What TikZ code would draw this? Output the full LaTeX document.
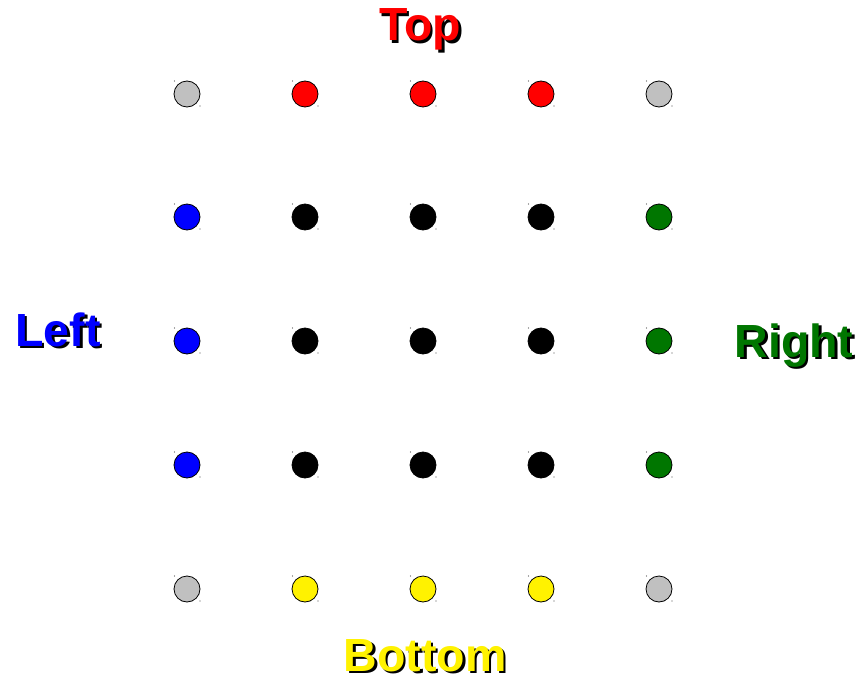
\documentclass[tikz,border=0pt]{standalone}
\usepackage{fontspec}
\newfontfamily\labelfont{Liberation Sans}
\usepackage{tikz}
\usetikzlibrary{positioning}

\definecolor{silver}{RGB}{192,192,192}
\definecolor{rightgreen}{RGB}{0,118,0}
\newcommand\shadowtext[1]{\rlap{\kern2.5pt\raisebox{-2.5pt}{\color{black}#1}}#1}

\begin{document}
\begin{tikzpicture}[x=1pt, y=-1pt,
    dot/.style={circle, draw=black, line width=0.8pt, minimum size=26pt, inner sep=0pt},
    side/.style={font=\labelfont\fontsize{46.5}{46.5}\selectfont\bfseries, inner sep=0pt, anchor=base},
]
\useasboundingbox (0,0) rectangle (862,677);

% the grid of dots, one row at a time
\foreach \c [count=\i] in {silver,red,red,red,silver}
  \node[dot, fill=\c] (d-1-\i) at ({187+118*(\i-1)}, 94) {};
\foreach \c [count=\i] in {blue,black,black,black,rightgreen}
  \node[dot, fill=\c] (d-2-\i) at ({187+118*(\i-1)}, 217) {};
\foreach \c [count=\i] in {blue,black,black,black,rightgreen}
  \node[dot, fill=\c] (d-3-\i) at ({187+118*(\i-1)}, 341) {};
\foreach \c [count=\i] in {blue,black,black,black,rightgreen}
  \node[dot, fill=\c] (d-4-\i) at ({187+118*(\i-1)}, 465) {};
\foreach \c [count=\i] in {silver,yellow,yellow,yellow,silver}
  \node[dot, fill=\c] (d-5-\i) at ({187+118*(\i-1)}, 589) {};

% little corner marks
\foreach \j in {1,...,5}
  \foreach \i in {1,...,5} {
    \fill[black!70] ([shift={(-12.5,-13)}]d-\j-\i.center) circle (0.6pt);
    \fill[black!70] ([shift={(13,12)}]d-\j-\i.center) circle (0.6pt);
  }

% side labels
\node[side, red] (top) at (420, 41) {\shadowtext{Top}};
\node[side, blue] (left) at (58, 346) {\shadowtext{Left}};
\node[side, rightgreen] (right) at (794, 357) {\shadowtext{Right}};
\node[side, yellow] (bottom) at (425, 671) {\shadowtext{Bottom}};
\end{tikzpicture}
\end{document}
